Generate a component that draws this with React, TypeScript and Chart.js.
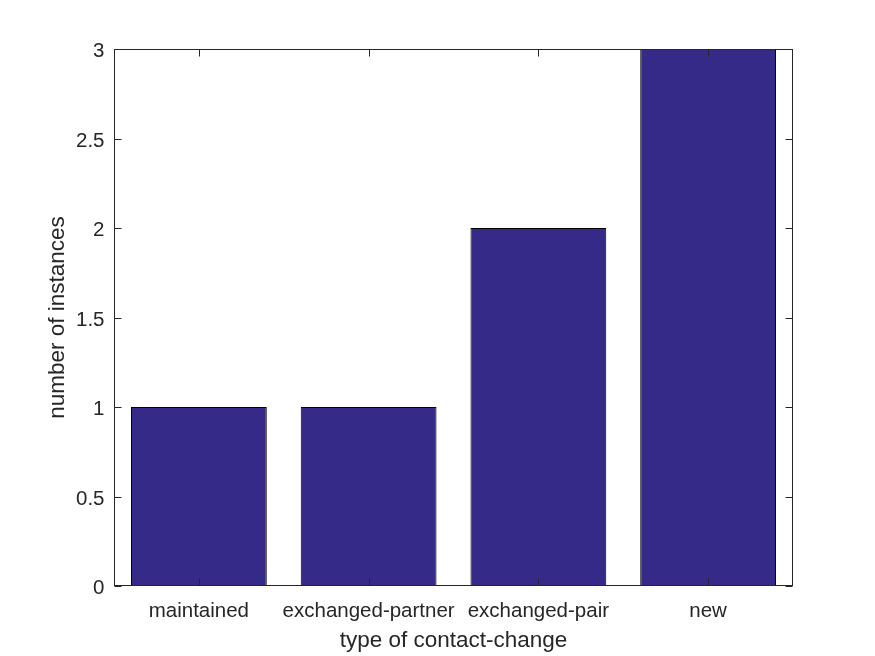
import React, { useEffect, useRef } from "react";
import { Chart, registerables } from "chart.js";

Chart.register(...registerables);

const categories = ["maintained", "exchanged-partner", "exchanged-pair", "new"];
const instances = [1, 1, 2, 3];
const yTickValues = [0, 0.5, 1, 1.5, 2, 2.5, 3];
const yTickLabels = ["0", "0.5", "1", "1.5", "2", "2.5", "3"];
const xTitle = "type of contact-change";
const yTitle = "number of instances";

const FONT = '"Liberation Sans", Arial, Helvetica, sans-serif';
const AXIS_COLOR = "#262626";

const matlabAxes = {
  id: "matlabAxes",
  afterDraw(chart: any) {
    const { ctx, chartArea, scales } = chart;
    const { left, right, top, bottom } = chartArea;
    const x = scales.x;
    const y = scales.y;
    ctx.save();
    ctx.strokeStyle = AXIS_COLOR;
    ctx.lineWidth = 1;
    const L = Math.round(left) + 0.5;
    const R = Math.round(right) - 0.5;
    const T = Math.round(top) + 0.5;
    const B = Math.round(bottom) - 0.5;
    ctx.strokeRect(L, T, R - L, B - T);
    const tl = 7;
    ctx.beginPath();
    yTickValues.forEach((v) => {
      const py = Math.round(y.getPixelForValue(v)) + 0.5;
      ctx.moveTo(L, py);
      ctx.lineTo(L + tl, py);
      ctx.moveTo(R, py);
      ctx.lineTo(R - tl, py);
    });
    categories.forEach((_c, i) => {
      const px = Math.round(x.getPixelForValue(i)) + 0.5;
      ctx.moveTo(px, B);
      ctx.lineTo(px, B - tl);
      ctx.moveTo(px, T);
      ctx.lineTo(px, T + tl);
    });
    ctx.stroke();

    ctx.fillStyle = AXIS_COLOR;
    ctx.font = `20.5px ${FONT}`;
    ctx.textBaseline = "alphabetic";
    ctx.textAlign = "right";
    yTickValues.forEach((v, i) => {
      const py = y.getPixelForValue(v);
      ctx.fillText(yTickLabels[i], L - 10, py + 8);
    });
    ctx.textAlign = "center";
    categories.forEach((c, i) => {
      const px = x.getPixelForValue(i);
      ctx.fillText(c, px, B + 31);
    });

    ctx.font = `22.5px ${FONT}`;
    ctx.textAlign = "center";
    ctx.fillText(xTitle, (left + right) / 2, 647);
    ctx.save();
    ctx.translate(64, (top + bottom) / 2);
    ctx.rotate(-Math.PI / 2);
    ctx.fillText(yTitle, 0, 0);
    ctx.restore();
    ctx.restore();
  },
};

export default function App() {
  const ref = useRef<HTMLCanvasElement | null>(null);
  useEffect(() => {
    if (!ref.current) return;
    const chart = new Chart(ref.current, {
      type: "bar",
      data: {
        labels: categories,
        datasets: [
          {
            data: instances,
            backgroundColor: "#352A87",
            borderColor: "#000000",
            borderWidth: 1,
            categoryPercentage: 1,
            barPercentage: 0.8,
          },
        ],
      },
      options: {
        animation: false,
        responsive: true,
        maintainAspectRatio: false,
        layout: { padding: { left: 114, top: 49, right: 82, bottom: 70 } },
        plugins: { legend: { display: false }, tooltip: { enabled: false }, title: { display: false } },
        scales: {
          x: { type: "category", display: false, offset: true },
          y: { type: "linear", display: false, min: 0, max: 3 },
        },
      },
      plugins: [matlabAxes],
    });
    return () => chart.destroy();
  }, []);
  return (
    <div style={{ position: "fixed", left: 0, top: 0, width: 875, height: 656, background: "#ffffff" }}>
      <canvas ref={ref} />
    </div>
  );
}
